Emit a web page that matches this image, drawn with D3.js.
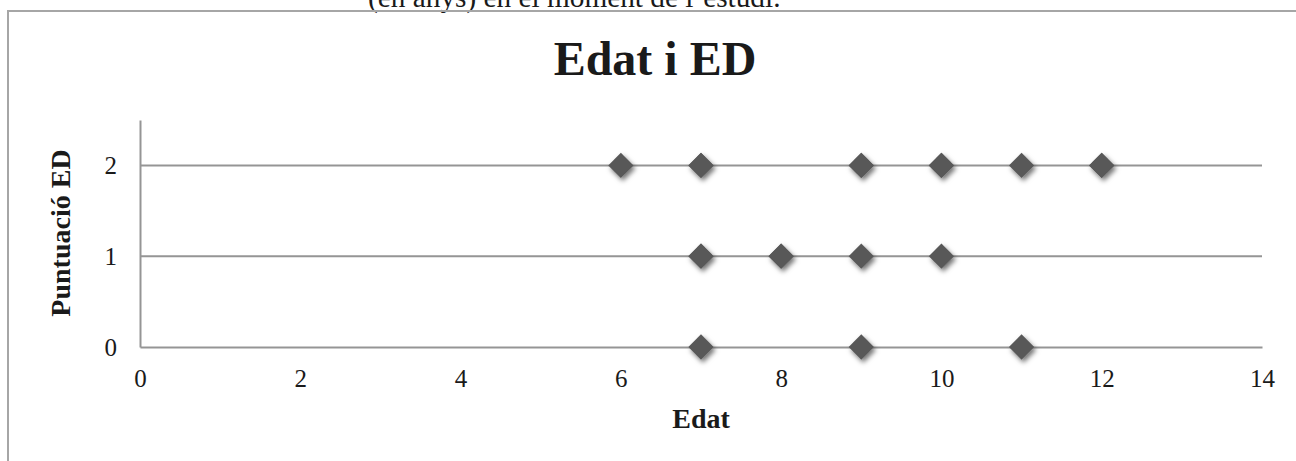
<!DOCTYPE html>
<html>
<head>
<meta charset="utf-8">
<script src="https://cdn.jsdelivr.net/npm/d3@7/dist/d3.min.js"></script>
<style>
  html, body { margin: 0; padding: 0; background: #fff; }
  svg { display: block; }
  text { font-family: "Liberation Serif", "Times New Roman", serif; fill: #1a1a1a; }
</style>
</head>
<body>
<svg id="chart" width="1296" height="461"></svg>
<script>
// Age (years) and ED score for each participant
const edat      = [6, 7, 7, 9, 9, 10, 10, 11, 12, 12, 7, 7, 8, 8, 9, 10, 7, 9, 11];
const puntuacio = [2, 2, 2, 2, 2, 2,  2,  2,  2,  2,  1, 1, 1, 1, 1, 1,  0, 0, 0];

const xTicks = [0, 2, 4, 6, 8, 10, 12, 14];
const yTicks = [0, 1, 2];
const gridValues = [1, 2];

const svg = d3.select("#chart");

const x = d3.scaleLinear().domain([0, 14]).range([140, 1262]);
const y = d3.scaleLinear().domain([0, 2.5]).range([347, 120]);

const lineColor = "#959595";

// Shadow under the markers
const defs = svg.append("defs");
const f = defs.append("filter").attr("id", "shadow")
  .attr("x", "-50%").attr("y", "-50%").attr("width", "200%").attr("height", "200%");
f.append("feDropShadow")
  .attr("dx", 2).attr("dy", 3).attr("stdDeviation", 2.5)
  .attr("flood-color", "#000").attr("flood-opacity", 0.55);

// Text line above the chart frame
svg.append("text")
  .attr("x", 368).attr("y", 7)
  .attr("font-size", 29.3)
  .text("(en anys) en el moment de l’estudi.");

// Chart frame
svg.append("path")
  .attr("d", "M8,461 L8,11 L1296,11")
  .attr("fill", "none")
  .attr("stroke", "#a6a6a6")
  .attr("stroke-width", 2);

// Title
svg.append("text")
  .attr("x", 655).attr("y", 75)
  .attr("text-anchor", "middle")
  .attr("font-size", 48)
  .attr("font-weight", "bold")
  .text("Edat i ED");

// Horizontal gridlines
svg.append("g").selectAll("line")
  .data(gridValues)
  .join("line")
  .attr("x1", x(0)).attr("x2", x(14))
  .attr("y1", d => y(d)).attr("y2", d => y(d))
  .attr("stroke", lineColor)
  .attr("stroke-width", 2);

// X axis
const xAxis = svg.append("g")
  .attr("transform", `translate(0,${y(0)})`)
  .call(d3.axisBottom(x).tickValues(xTicks).tickSize(0).tickPadding(22).tickFormat(d3.format("d")));
xAxis.select(".domain").attr("stroke", lineColor).attr("stroke-width", 2);
xAxis.selectAll("text")
  .attr("font-size", 25)
  .attr("font-family", "Liberation Serif, Times New Roman, serif")
  .attr("fill", "#1a1a1a");

// Y axis
const yAxis = svg.append("g")
  .attr("transform", `translate(${x(0)},0)`)
  .call(d3.axisLeft(y).tickValues(yTicks).tickSize(0).tickPadding(23).tickFormat(d3.format("d")));
yAxis.select(".domain").attr("stroke", lineColor).attr("stroke-width", 2);
yAxis.selectAll("text")
  .attr("font-size", 25)
  .attr("font-family", "Liberation Serif, Times New Roman, serif")
  .attr("fill", "#1a1a1a");

// Axis titles
svg.append("text")
  .attr("x", 701).attr("y", 428)
  .attr("text-anchor", "middle")
  .attr("font-size", 28)
  .attr("font-weight", "bold")
  .text("Edat");

svg.append("text")
  .attr("transform", "translate(70,233) rotate(-90)")
  .attr("text-anchor", "middle")
  .attr("font-size", 28)
  .attr("font-weight", "bold")
  .text("Puntuació ED");

// Diamond markers
const diamond = d3.symbol().type(d3.symbolSquare).size(320);
svg.append("g")
  .attr("filter", "url(#shadow)")
  .selectAll("path")
  .data(edat.map((e, i) => ({ e, p: puntuacio[i] })))
  .join("path")
  .attr("d", diamond)
  .attr("transform", d => `translate(${x(d.e)},${y(d.p)}) rotate(45)`)
  .attr("fill", "#595959");
</script>
</body>
</html>
